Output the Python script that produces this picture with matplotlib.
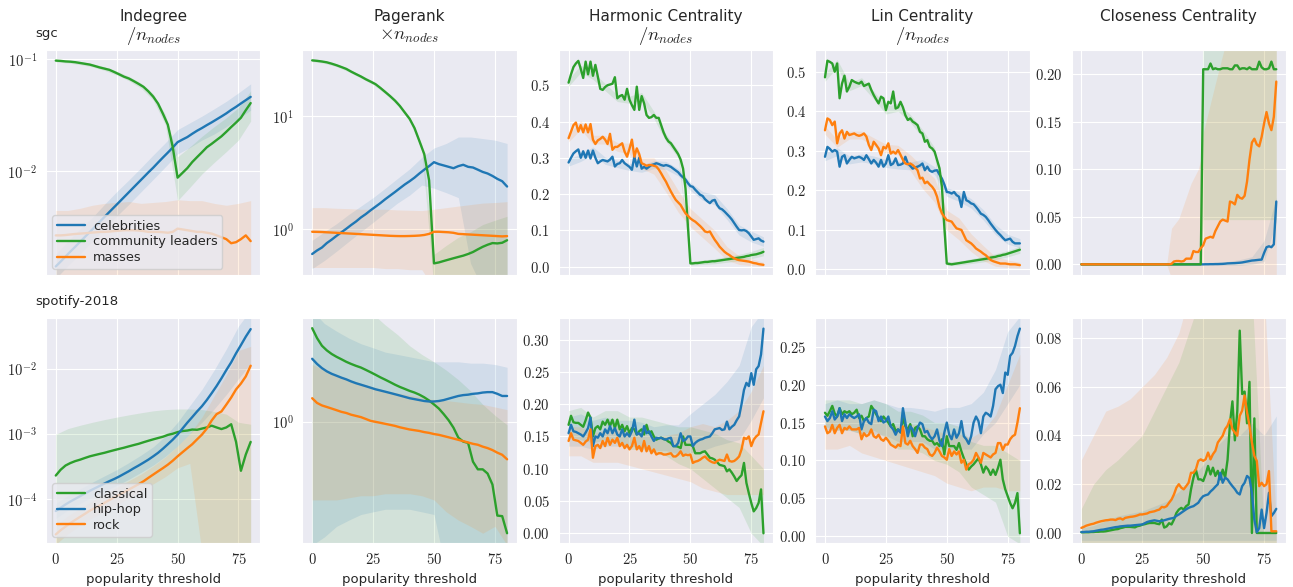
import matplotlib
matplotlib.use('Agg')
import matplotlib.pyplot as plt
import seaborn as sns
import numpy as np
from matplotlib.ticker import FuncFormatter, NullFormatter

# x grids
X_FINE = list(range(0, 81))
X_COARSE = list(range(0, 81, 2))
BAND_X = list(range(0, 81, 5))
BAND_X_CLOSE_SGC = [0, 35, 37, 40, 45, 48, 49, 50, 55, 60, 65, 70, 75, 80]

TITLES = ['Indegree', 'Pagerank', 'Harmonic Centrality', 'Lin Centrality', 'Closeness Centrality']
SUBTITLES = ['$/n_{nodes}$', '$\\times n_{nodes}$', '$/n_{nodes}$', '$/n_{nodes}$', '']
ROWS = ['sgc', 'spotify-2018']
SGC_GROUPS = ['celebrities', 'community leaders', 'masses']
SPOT_GROUPS = ['classical', 'hip-hop', 'rock']
XLABEL = 'popularity threshold'

# ---------------- sgc : indegree (x = X_COARSE) ----------------
sgc_indeg_celeb = [.00143, .00158, .00175, .00194, .00214, .00237, .00262, .0029, .00321, .00356,
                   .00394, .00436, .00482, .00533, .0059, .00653, .00723, .008, .00885, .0098,
                   .0108, .012, .0133, .0147, .0163, .0182, .0192, .0202, .0216, .023,
                   .0243, .0258, .0273, .029, .0308, .0328, .0352, .0375, .0402, .043,
                   .046]
sgc_indeg_comm = [.0966, .096, .095, .0945, .0935, .092, .0905, .089, .0865, .084,
                  .082, .08, .0765, .073, .0695, .067, .0635, .06, .0565, .0515,
                  .0462, .04, .0325, .026, .0165, .0088, .0097, .0107, .0121, .0134,
                  .0148, .0164, .0176, .019, .0205, .0225, .0248, .0272, .03, .035,
                  .0405]
sgc_indeg_mass = [.0027, .0027, .00272, .00275, .00278, .0028, .00282, .00285, .00287, .0029,
                  .0029, .00292, .00295, .00297, .003, .003, .003, .00298, .00295, .0029,
                  .0029, .0029, .00288, .00285, .0029, .0031, .00305, .003, .00295, .0029,
                  .0029, .00285, .0028, .0027, .0026, .0025, .0023, .00235, .0025, .0027,
                  .0024]
sgc_indeg_celeb_lo = [.00112, .00145, .00185, .0024, .0031, .004, .0051, .0066, .0085, .011, .0143,
                      .0163, .019, .0215, .025, .0295, .035]
sgc_indeg_celeb_hi = [.00185, .0024, .0031, .0039, .0051, .0066, .0084, .0108, .014, .018, .0235,
                      .027, .031, .036, .042, .05, .06]
sgc_indeg_comm_lo = [.094, .092, .089, .085, .079, .072, .064, .055, .043, .026, .0055,
                     .0072, .0095, .012, .015, .019, .028]
sgc_indeg_comm_hi = [.099, .097, .095, .091, .085, .078, .07, .061, .049, .032, .0135,
                     .0165, .0205, .025, .03, .037, .052]
sgc_indeg_mass_lo = [.0008, .0008, .0008, .0008, .0008, .0008, .0008, .0008, .0008, .0008, .0008,
                     .0008, .0008, .0008, .0008, .0008, .0008]
sgc_indeg_mass_hi = [.0045, .0045, .0047, .005, .0052, .0053, .0054, .0052, .0053, .0054, .0056,
                     .0055, .0055, .0052, .005, .0052, .0055]

# ---------------- sgc : pagerank (x = X_COARSE) ----------------
sgc_pr_celeb = [.605, .65, .69, .755, .81, .875, .94, 1.01, 1.09, 1.17,
                1.27, 1.36, 1.47, 1.58, 1.7, 1.84, 1.98, 2.13, 2.3, 2.48,
                2.65, 2.85, 3.1, 3.35, 3.6, 3.9, 3.75, 3.65, 3.55, 3.45,
                3.6, 3.7, 3.55, 3.5, 3.35, 3.2, 3.1, 2.95, 2.78, 2.65,
                2.38]
sgc_pr_comm = [30.8, 30.5, 30.1, 29.6, 28.8, 27.9, 26.9, 25.9, 24.5, 23.3,
               22.2, 21.0, 20.0, 19.0, 17.6, 16.2, 14.9, 13.6, 12.2, 10.7,
               9.4, 7.8, 6.0, 4.6, 2.7, 0.5, 0.51, 0.525, 0.54, 0.555,
               0.57, 0.585, 0.605, 0.63, 0.665, 0.7, 0.73, 0.755, 0.75, 0.76,
               0.8]
sgc_pr_mass = [.95, .948, .945, .94, .935, .93, .925, .92, .915, .91,
               .905, .9, .895, .89, .885, .88, .875, .872, .87, .87,
               .872, .875, .88, .89, .91, .95, .95, .945, .94, .93,
               .91, .905, .9, .895, .89, .885, .88, .875, .87, .865,
               .87]
sgc_pr_celeb_lo = [.45, .53, .64, .78, .95, 1.15, 1.4, 1.7, 2.0, 2.45, 2.3, 2.1, 1.9, .5, .3, .3, .3]
sgc_pr_celeb_hi = [.8, .95, 1.12, 1.35, 1.6, 1.9, 2.3, 2.8, 3.4, 4.3, 5.2, 5.7, 6.5, 6.5, 6.3, 6.1, 5.7]
sgc_pr_comm_lo = [30.0, 29.0, 27.1, 24.4, 21.5, 18.8, 15.6, 12.4, 9.0, 5.0, .3, .3, .3, .3, .3, .3, .3]
sgc_pr_comm_hi = [31.6, 30.6, 28.7, 26.0, 22.9, 20.2, 16.8, 13.4, 9.8, 5.6, .6, .72, .85, .95, 1.1, 1.2, 1.3]
sgc_pr_mass_lo = [.46, .46, .46, .46, .46, .46, .45, .45, .44, .44, .3, .3, .3, .3, .3, .3, .3]
sgc_pr_mass_hi = [1.55, 1.55, 1.53, 1.52, 1.5, 1.5, 1.5, 1.48, 1.47, 1.46, 1.5, 1.55, 1.6, 1.65, 1.7, 1.72, 1.75]

# ---------------- sgc : harmonic (x = X_FINE) ----------------
sgc_harm_celeb = [.287, .30, .312, .318, .323, .30, .318, .30, .32, .298,
                  .32, .30, .285, .29, .294, .292, .29, .295, .303, .276,
                  .283, .285, .294, .285, .28, .275, .267, .303, .276, .30,
                  .27, .275, .27, .275, .28, .282, .285, .283, .28, .278,
                  .28, .278, .275, .27, .265, .26, .252, .246, .24, .23,
                  .222, .22, .212, .205, .198, .195, .186, .18, .175, .182,
                  .184, .17, .161, .158, .152, .145, .138, .13, .12, .11,
                  .101, .1, .101, .098, .092, .083, .074, .076, .078, .072,
                  .069]
sgc_harm_comm = [.507, .53, .55, .56, .567, .545, .52, .565, .53, .565,
                 .526, .556, .524, .49, .487, .495, .50, .502, .504, .522,
                 .464, .47, .473, .46, .49, .46, .445, .432, .496, .432,
                 .47, .45, .418, .41, .412, .418, .41, .41, .39, .37,
                 .355, .345, .34, .33, .32, .31, .295, .27, .215, .11,
                 .009, .009, .01, .01, .011, .012, .013, .013, .014, .015,
                 .015, .016, .017, .018, .019, .02, .021, .022, .023, .024,
                 .025, .026, .027, .029, .03, .032, .033, .034, .036, .038,
                 .041]
sgc_harm_mass = [.354, .372, .39, .397, .372, .39, .37, .392, .37, .393,
                 .35, .338, .348, .352, .358, .35, .338, .366, .322, .33,
                 .33, .335, .34, .317, .303, .325, .35, .303, .326, .31,
                 .285, .282, .278, .28, .28, .278, .276, .268, .257, .245,
                 .234, .22, .207, .195, .184, .177, .17, .158, .147, .14,
                 .133, .128, .124, .118, .112, .105, .097, .095, .097, .085,
                 .074, .065, .055, .048, .041, .036, .032, .027, .023, .02,
                 .018, .017, .016, .015, .014, .012, .01, .009, .007, .006,
                 .005]
sgc_harm_celeb_lo = [.277, .29, .308, .282, .273, .265, .26, .27, .268, .25, .21, .183, .17, .13, .087, .068, .056]
sgc_harm_celeb_hi = [.297, .31, .33, .302, .293, .285, .28, .292, .29, .27, .232, .207, .198, .16, .115, .098, .082]
sgc_harm_comm_lo = [.497, .535, .516, .485, .455, .45, .46, .408, .345, .3, .004, .006, .008, .012, .016, .022, .03]
sgc_harm_comm_hi = [.517, .555, .536, .505, .473, .47, .48, .428, .365, .32, .014, .018, .022, .028, .034, .042, .053]
sgc_harm_mass_lo = [.344, .378, .338, .338, .318, .31, .27, .255, .205, .15, .11, .08, .05, .018, .006, .003, .0]
sgc_harm_mass_hi = [.364, .402, .362, .362, .342, .34, .3, .3, .265, .21, .16, .13, .1, .055, .03, .022, .012]

# ---------------- sgc : lin (x = X_FINE) ----------------
sgc_lin_celeb = [.285, .31, .305, .298, .302, .298, .26, .285, .289, .268,
                 .277, .285, .281, .283, .285, .282, .277, .289, .279, .268,
                 .277, .27, .26, .277, .26, .268, .289, .264, .268, .281,
                 .264, .265, .268, .285, .268, .262, .255, .258, .26, .263,
                 .268, .251, .26, .25, .247, .25, .251, .24, .23, .215,
                 .196, .195, .192, .196, .188, .184, .158, .196, .175, .172,
                 .167, .165, .158, .15, .141, .138, .133, .125, .116, .108,
                 .10, .093, .087, .08, .074, .076, .078, .07, .066, .066,
                 .066]
sgc_lin_comm = [.486, .528, .525, .521, .50, .521, .433, .47, .49, .45,
                .462, .479, .475, .472, .47, .475, .464, .467, .47, .454,
                .441, .43, .42, .437, .433, .403, .424, .42, .45, .407,
                .41, .424, .41, .39, .378, .382, .374, .37, .365, .348,
                .344, .323, .327, .31, .306, .298, .277, .256, .209, .108,
                .015, .014, .013, .014, .015, .016, .017, .018, .019, .02,
                .021, .022, .023, .024, .025, .026, .027, .028, .03, .031,
                .032, .034, .035, .037, .038, .04, .042, .044, .046, .048,
                .05]
sgc_lin_mass = [.352, .382, .378, .365, .374, .319, .344, .352, .331, .348,
                .34, .342, .344, .34, .338, .34, .344, .336, .315, .302,
                .323, .315, .306, .289, .31, .306, .319, .293, .298, .293,
                .302, .29, .277, .268, .266, .268, .264, .258, .251, .23,
                .232, .218, .222, .215, .209, .2, .184, .158, .142, .133,
                .125, .123, .121, .112, .104, .102, .10, .087, .074, .07,
                .066, .06, .053, .049, .045, .04, .036, .03, .024, .021,
                .019, .017, .015, .015, .015, .014, .013, .013, .013, .012,
                .011]
sgc_lin_celeb_lo = [.275, .288, .267, .272, .267, .258, .254, .252, .258, .24, .185, .172, .155, .125, .088, .064, .055]
sgc_lin_celeb_hi = [.295, .308, .287, .292, .287, .278, .274, .272, .278, .26, .207, .196, .179, .151, .113, .089, .078]
sgc_lin_comm_lo = [.476, .511, .452, .465, .431, .393, .40, .372, .334, .288, .01, .011, .015, .019, .025, .032, .041]
sgc_lin_comm_hi = [.496, .531, .472, .485, .451, .413, .42, .392, .354, .308, .02, .021, .027, .033, .04, .048, .059]
sgc_lin_mass_lo = [.342, .309, .33, .33, .313, .295, .29, .25, .205, .17, .1, .075, .045, .022, .008, .005, .004]
sgc_lin_mass_hi = [.362, .329, .35, .35, .333, .317, .314, .29, .26, .23, .15, .13, .09, .06, .032, .024, .018]

# ---------------- sgc : closeness (x = X_FINE) ----------------
sgc_close_celeb = [0, 0, 0, 0, 0, 0, 0, 0, 0, 0,
                   0, 0, 0, 0, 0, 0, 0, 0, 0, 0,
                   0, 0, 0, 0, 0, 0, 0, 0, 0, 0,
                   0, 0, 0, 0, 0, 0, 0, 0, 0, 0,
                   0, 0, 0, 0, 0, 0, 0, 0, 0, 0,
                   0, .0001, .0001, .0002, .0002, .0003, .0003, .0004, .0005, .0007,
                   .001, .0011, .0012, .0013, .0015, .0017, .002, .0025, .003, .0035,
                   .004, .0042, .0045, .0048, .005, .012, .018, .019, .018, .021,
                   .066]
sgc_close_comm = [0, 0, 0, 0, 0, 0, 0, 0, 0, 0,
                  0, 0, 0, 0, 0, 0, 0, 0, 0, 0,
                  0, 0, 0, 0, 0, 0, 0, 0, 0, 0,
                  0, 0, 0, 0, 0, 0, 0, 0, 0, 0,
                  0, 0, 0, 0, 0, 0, 0, 0, 0, 0,
                  .205, .205, .205, .211, .205, .206, .205, .205, .206, .206,
                  .206, .205, .205, .209, .209, .205, .206, .206, .205, .207,
                  .205, .205, .205, .213, .207, .205, .205, .206, .213, .205,
                  .205]
sgc_close_mass = [0, 0, 0, 0, 0, 0, 0, 0, 0, 0,
                  0, 0, 0, 0, 0, 0, 0, 0, 0, 0,
                  0, 0, 0, 0, 0, 0, 0, 0, 0, 0,
                  0, 0, 0, 0, 0, 0, 0, .0005, .003, .0035,
                  .0035, .003, .0035, .006, .006, .006, .014, .013, .013, .017,
                  .02, .027, .028, .029, .028, .035, .04, .045, .047, .046,
                  .045, .066, .065, .063, .073, .07, .069, .072, .087, .11,
                  .128, .132, .126, .124, .134, .148, .16, .148, .141, .155,
                  .192]
sgc_close_celeb_lo = [0, 0, 0, 0, 0, 0, 0, 0, -.001, -.001, -.001, 0, .003, .045]
sgc_close_celeb_hi = [0, 0, 0, 0, 0, 0, 0, 0, .002, .003, .005, .008, .025, .07]
sgc_close_comm_lo = [0, 0, 0, 0, 0, 0, 0, .047, .047, .047, .047, .047, .047, .047]
sgc_close_comm_hi = [0, 0, 0, 0, 0, 0, 0, .24, .24, .24, .24, .24, .24, .24]
sgc_close_mass_lo = [0, 0, -.015, -.015, -.015, -.015, -.015, -.015, -.015, -.015, -.015, -.015, -.015, -.015]
sgc_close_mass_hi = [0, 0, .038, .048, .085, .1, .11, .138, .19, .24, .24, .24, .24, .24]

# ---------------- spotify : indegree (x = X_COARSE) ----------------
sp_indeg_class = [2.28e-4, 2.8e-4, 3.25e-4, 3.55e-4, 3.8e-4, 4.0e-4, 4.25e-4, 4.5e-4, 4.7e-4, 4.9e-4,
                  5.1e-4, 5.35e-4, 5.6e-4, 5.85e-4, 6.1e-4, 6.4e-4, 6.7e-4, 7.0e-4, 7.4e-4, 7.8e-4,
                  8.2e-4, 8.6e-4, 9.0e-4, 9.6e-4, 1.0e-3, 1.06e-3, 1.1e-3, 1.12e-3, 1.16e-3, 1.15e-3,
                  1.2e-3, 1.25e-3, 1.33e-3, 1.25e-3, 1.18e-3, 1.25e-3, 1.4e-3, 7.5e-4, 2.7e-4, 4.8e-4,
                  7.5e-4]
sp_indeg_hiphop = [6.5e-5, 7.3e-5, 8.2e-5, 9.1e-5, 1.0e-4, 1.1e-4, 1.21e-4, 1.33e-4, 1.45e-4, 1.58e-4,
                   1.72e-4, 1.87e-4, 2.02e-4, 2.2e-4, 2.42e-4, 2.66e-4, 2.95e-4, 3.25e-4, 3.6e-4, 4.0e-4,
                   4.5e-4, 5.1e-4, 5.9e-4, 6.9e-4, 8.1e-4, 9.7e-4, 1.2e-3, 1.48e-3, 1.8e-3, 2.2e-3,
                   2.65e-3, 3.3e-3, 4.2e-3, 5.4e-3, 7.1e-3, 9.5e-3, .0125, .0172, .023, .031,
                   .0405]
sp_indeg_rock = [2.84e-5, 3.3e-5, 3.75e-5, 4.25e-5, 4.75e-5, 5.3e-5, 5.9e-5, 6.6e-5, 7.2e-5, 7.9e-5,
                 8.7e-5, 9.6e-5, 1.05e-4, 1.15e-4, 1.26e-4, 1.39e-4, 1.53e-4, 1.68e-4, 1.86e-4, 2.1e-4,
                 2.36e-4, 2.65e-4, 2.97e-4, 3.35e-4, 3.85e-4, 4.5e-4, 5.2e-4, 6.0e-4, 6.9e-4, 8.2e-4,
                 9.7e-4, 1.2e-3, 1.6e-3, 2.0e-3, 2.2e-3, 2.8e-3, 3.6e-3, 4.8e-3, 5.9e-3, 7.6e-3,
                 .0111]
sp_indeg_class_lo = [1.5e-5, 1.5e-5, 1.5e-5, 1.5e-5, 1.5e-5, 1.5e-5, 1.5e-5, 1.5e-5, 1.5e-5, 1.5e-5,
                     1.5e-5, 1.5e-5, 1.5e-5, 1.5e-5, 1.5e-5, 1.5e-5, 1.5e-5]
sp_indeg_class_hi = [9.8e-4, 1.2e-3, 1.35e-3, 1.5e-3, 1.65e-3, 1.8e-3, 1.95e-3, 2.1e-3, 2.25e-3, 2.35e-3,
                     2.4e-3, 2.4e-3, 2.35e-3, 2.2e-3, 2.0e-3, 1.5e-3, 1.4e-3]
sp_indeg_hiphop_lo = [5.0e-5, 6.7e-5, 8.5e-5, 1.07e-4, 1.32e-4, 1.6e-4, 2.0e-4, 2.55e-4, 3.3e-4, 4.5e-4,
                      6.5e-4, 1.0e-3, 1.5e-3, 2.4e-3, 4.0e-3, 7.0e-3, .012]
sp_indeg_hiphop_hi = [8.5e-5, 1.13e-4, 1.42e-4, 1.8e-4, 2.25e-4, 2.8e-4, 3.6e-4, 4.7e-4, 6.3e-4, 9.2e-4,
                      1.5e-3, 2.7e-3, 4.8e-3, 9.5e-3, .02, .045, .08]
sp_indeg_rock_lo = [2.0e-5, 2.9e-5, 3.9e-5, 5.1e-5, 6.4e-5, 8.1e-5, 1.02e-4, 1.3e-4, 1.7e-4, 2.2e-4,
                    3.0e-4, 3.5e-4, 1.5e-5, 1.5e-5, 1.5e-5, 1.5e-5, 1.5e-5]
sp_indeg_rock_hi = [3.9e-5, 5.5e-5, 7.2e-5, 9.3e-5, 1.18e-4, 1.5e-4, 1.9e-4, 2.4e-4, 3.2e-4, 4.4e-4,
                    6.5e-4, 1.0e-3, 1.8e-3, 3.8e-3, 8.0e-3, .019, .022]

# ---------------- spotify : pagerank (x = X_COARSE) ----------------
sp_pr_class = [4.19, 3.6, 3.2, 2.98, 2.82, 2.7, 2.6, 2.5, 2.42, 2.35,
               2.29, 2.21, 2.13, 2.05, 1.97, 1.9, 1.83, 1.76, 1.7, 1.65,
               1.6, 1.56, 1.51, 1.45, 1.38, 1.3, 1.22, 1.12, 1.02, 0.91,
               0.78, 0.735, 0.72, 0.54, 0.48, 0.48, 0.45, 0.38, 0.236, 0.234,
               0.18]
sp_pr_hiphop = [2.62, 2.42, 2.27, 2.16, 2.08, 2.02, 1.96, 1.91, 1.85, 1.8,
                1.76, 1.72, 1.68, 1.64, 1.61, 1.58, 1.55, 1.52, 1.49, 1.46,
                1.43, 1.41, 1.39, 1.37, 1.36, 1.36, 1.37, 1.39, 1.42, 1.45,
                1.48, 1.5, 1.51, 1.53, 1.54, 1.56, 1.57, 1.57, 1.53, 1.48,
                1.48]
sp_pr_rock = [1.43, 1.33, 1.28, 1.25, 1.22, 1.19, 1.16, 1.14, 1.11, 1.09,
              1.07, 1.04, 1.01, .995, .98, .965, .95, .935, .915, .9,
              .885, .875, .865, .85, .84, .825, .815, .8, .785, .77,
              .755, .74, .725, .71, .7, .68, .665, .645, .62, .6,
              .56]
sp_pr_class_lo = [.1, .1, .1, .1, .1, .1, .1, .1, .1, .1, .1, .1, .1, .1, .1, .1, .1]
sp_pr_class_hi = [6.0, 6.0, 6.0, 6.0, 6.0, 5.2, 4.4, 3.8, 3.2, 2.8, 2.5, 2.2, 1.9, 1.6, 1.3, 1.1, .95]
sp_pr_hiphop_lo = [.15, .17, .2, .22, .24, .25, .26, .26, .26, .25, .24, .1, .1, .1, .1, .1, .1]
sp_pr_hiphop_hi = [5.5, 4.5, 4.0, 3.6, 3.3, 3.1, 2.9, 2.8, 2.7, 2.6, 2.5, 2.5, 2.5, 2.45, 2.45, 2.4, 2.3]
sp_pr_rock_lo = [.3, .3, .3, .31, .32, .32, .33, .33, .33, .32, .3, .25, .22, .2, .18, .2, .15]
sp_pr_rock_hi = [2.4, 2.2, 2.0, 1.9, 1.8, 1.7, 1.6, 1.55, 1.5, 1.45, 1.4, 1.38, 1.35, 1.32, 1.3, 1.25, 1.2]

# ---------------- spotify : harmonic (x = X_FINE) ----------------
sp_harm_class = [.168, .182, .172, .171, .171, .168, .165, .175, .187, .179,
                 .15, .163, .166, .161, .173, .168, .176, .166, .176, .163,
                 .176, .161, .168, .158, .166, .155, .163, .161, .153, .158,
                 .161, .153, .168, .155, .158, .15, .145, .147, .148, .146,
                 .145, .142, .14, .135, .135, .134, .132, .15, .137, .137,
                 .137, .135, .124, .124, .124, .126, .127, .122, .117, .116,
                 .114, .11, .106, .105, .104, .096, .099, .094, .088, .081,
                 .086, .09, .109, .078, .062, .047, .034, .039, .047, .068,
                 .0]
sp_harm_hiphop = [.155, .168, .158, .157, .155, .153, .15, .156, .163, .179,
                  .135, .15, .148, .155, .15, .161, .155, .166, .155, .163,
                  .153, .15, .161, .15, .155, .15, .158, .176, .153, .155,
                  .15, .166, .155, .158, .15, .143, .148, .147, .148, .146,
                  .145, .147, .148, .135, .135, .14, .155, .143, .145, .15,
                  .15, .135, .14, .143, .145, .146, .148, .149, .15, .155,
                  .161, .162, .163, .16, .161, .173, .161, .165, .168, .175,
                  .181, .2, .222, .233, .228, .248, .23, .254, .259, .277,
                  .317]
sp_harm_rock = [.143, .155, .145, .144, .143, .14, .137, .142, .145, .161,
                .117, .135, .137, .132, .143, .135, .148, .137, .145, .14,
                .148, .135, .14, .132, .137, .13, .135, .148, .13, .135,
                .127, .143, .127, .135, .124, .13, .122, .124, .124, .122,
                .122, .123, .124, .119, .119, .122, .127, .12, .122, .121,
                .122, .109, .111, .112, .114, .117, .119, .115, .112, .11,
                .109, .112, .114, .113, .112, .122, .112, .111, .112, .115,
                .119, .13, .148, .146, .15, .135, .145, .15, .153, .171,
                .189]
sp_harm_class_lo = [.15, .145, .14, .145, .14, .13, .13, .125, .12, .108, .1, .085, .07, .055, .04, .0, -.02]
sp_harm_class_hi = [.19, .195, .18, .19, .19, .18, .18, .175, .17, .165, .165, .16, .155, .145, .14, .12, .1]
sp_harm_hiphop_lo = [.135, .135, .13, .135, .135, .135, .133, .128, .128, .123, .125, .128, .135, .14, .145, .175, .21]
sp_harm_hiphop_hi = [.18, .185, .175, .18, .175, .175, .172, .165, .168, .168, .185, .2, .215, .235, .26, .32, .345]
sp_harm_rock_lo = [.12, .12, .11, .11, .11, .105, .1, .095, .09, .085, .08, .07, .065, .06, .06, .06, .06]
sp_harm_rock_hi = [.165, .165, .155, .16, .165, .158, .155, .15, .152, .155, .165, .17, .165, .175, .19, .22, .26]

# ---------------- spotify : lin (x = X_FINE) ----------------
sp_lin_class = [.163, .159, .165, .172, .162, .158, .169, .161, .165, .163,
                .165, .161, .163, .167, .156, .159, .152, .156, .158, .172,
                .167, .161, .156, .152, .158, .154, .15, .145, .148, .139,
                .141, .137, .156, .145, .141, .148, .132, .143, .145, .141,
                .132, .132, .128, .126, .126, .121, .123, .119, .128, .108,
                .132, .119, .119, .119, .114, .123, .112, .103, .095, .088,
                .092, .095, .099, .103, .095, .084, .092, .088, .081, .088,
                .081, .09, .101, .075, .062, .053, .044, .037, .044, .057,
                .004]
sp_lin_hiphop = [.158, .152, .156, .165, .154, .158, .169, .152, .161, .156,
                 .161, .158, .156, .158, .161, .141, .152, .156, .15, .148,
                 .167, .165, .152, .158, .15, .152, .158, .145, .141, .134,
                 .141, .137, .169, .15, .132, .145, .141, .132, .143, .15,
                 .148, .137, .139, .132, .128, .132, .141, .126, .119, .137,
                 .15, .134, .128, .141, .13, .136, .152, .132, .128, .122,
                 .132, .15, .158, .152, .136, .158, .163, .161, .158, .172,
                 .194, .198, .2, .189, .216, .213, .238, .242, .251, .264,
                 .274]
sp_lin_rock = [.145, .136, .138, .147, .136, .143, .147, .136, .143, .141,
               .145, .141, .141, .141, .143, .128, .136, .132, .134, .141,
               .132, .13, .134, .128, .126, .13, .126, .121, .119, .117,
               .121, .119, .145, .123, .121, .126, .119, .115, .11, .121,
               .121, .117, .115, .108, .106, .11, .117, .112, .106, .104,
               .101, .115, .106, .112, .108, .112, .097, .101, .088, .095,
               .097, .101, .11, .104, .097, .11, .108, .106, .104, .108,
               .11, .123, .123, .114, .121, .121, .128, .132, .134, .15,
               .169]
sp_lin_class_lo = [.145, .14, .14, .135, .14, .13, .115, .115, .11, .1, .095, .085, .065, .055, .045, .0, -.01]
sp_lin_class_hi = [.18, .18, .18, .175, .18, .175, .165, .165, .16, .15, .15, .145, .125, .12, .12, .11, .1]
sp_lin_hiphop_lo = [.14, .14, .14, .135, .135, .133, .125, .125, .125, .115, .115, .115, .115, .135, .15, .175, .2]
sp_lin_hiphop_hi = [.175, .18, .175, .175, .18, .175, .17, .17, .168, .165, .17, .17, .175, .19, .22, .27, .29]
sp_lin_rock_lo = [.115, .115, .12, .11, .105, .1, .095, .09, .085, .08, .07, .065, .06, .065, .065, .06, .06]
sp_lin_rock_hi = [.16, .16, .16, .155, .155, .15, .145, .148, .145, .14, .135, .135, .13, .14, .16, .2, .24]

# ---------------- spotify : closeness (x = X_FINE) ----------------
sp_close_class = [.0003, .0003, .0003, .0003, .0004, .0004, .0005, .0005, .0006, .0006,
                  .0007, .0009, .0011, .0013, .0015, .0016, .002, .0022, .0025, .0025,
                  .0025, .0024, .0023, .0028, .003, .0034, .0036, .0039, .0041, .0041,
                  .0041, .0038, .0036, .0055, .0022, .0027, .004, .0035, .0055, .0082,
                  .0096, .0103, .0096, .011, .0117, .0179, .0227, .026, .022, .022,
                  .0213, .024, .0275, .024, .0268, .0234, .0255, .022, .026, .0227,
                  .03, .045, .054, .038, .05, .083, .057, .058, .045, .062,
                  .0, .047, .0, .0, .0, .0, .0, .0, .0, .0,
                  .0]
sp_close_hiphop = [.0004, .0004, .0005, .0005, .0006, .0007, .0009, .0011, .0013, .0014,
                   .0016, .0018, .002, .0022, .0024, .0025, .0027, .0028, .0029, .003,
                   .003, .0031, .0032, .0033, .0034, .0035, .004, .0045, .0048, .005,
                   .0052, .005, .0048, .005, .0052, .0055, .0058, .006, .0062, .007,
                   .0076, .0083, .009, .0097, .0103, .0107, .011, .0117, .0124, .014,
                   .0151, .0155, .0158, .017, .0179, .019, .02, .0247, .0206, .0227,
                   .022, .0205, .0192, .018, .0165, .0158, .0192, .0206, .0234, .0225,
                   .0165, .0055, .0003, .002, .0096, .002, .0082, .0165, .0069, .0082,
                   .0099]
sp_close_rock = [.0021, .0025, .003, .0033, .0036, .0038, .0042, .0045, .0048, .005,
                 .0052, .0053, .0055, .0055, .0053, .0058, .006, .0055, .0062, .0064,
                 .0066, .0067, .0069, .0072, .0076, .0076, .0078, .008, .0085, .0087,
                 .0089, .0093, .0096, .0107, .0105, .011, .0124, .0137, .0158, .0186,
                 .02, .0186, .0179, .0192, .0206, .0247, .0247, .0261, .0296, .0302,
                 .0296, .0302, .033, .0302, .0323, .0337, .0371, .0385, .0399, .0426,
                 .044, .0467, .0426, .0412, .0399, .0481, .0502, .0564, .0495, .044,
                 .0371, .0316, .0296, .0192, .0206, .0192, .02, .0254, .0007, .0007,
                 .0007]
sp_close_class_lo = [-.005, -.005, -.005, -.005, -.005, -.005, -.005, -.005, -.005, -.005,
                     -.005, -.005, -.005, -.005, -.005, -.005, -.005]
sp_close_class_hi = [.01, .02, .026, .03, .035, .04, .05, .06, .07, .085, .1, .1, .1, .1, .1, .0, .0]
sp_close_hiphop_lo = [-.003, -.003, -.003, -.003, -.003, -.003, -.003, -.003, -.003, -.003,
                      -.003, -.003, -.003, -.003, -.003, -.003, -.003]
sp_close_hiphop_hi = [.002, .003, .005, .007, .008, .009, .011, .013, .017, .022, .028, .035, .04, .04,
                      .045, .04, .048]
sp_close_rock_lo = [-.004, -.004, -.004, -.004, -.004, -.004, -.004, -.004, -.004, -.004,
                    -.004, -.004, -.004, -.004, -.004, -.004, -.004]
sp_close_rock_hi = [.03, .04, .05, .052, .055, .06, .065, .072, .082, .1, .1, .1, .1, .1, .1, .1, .004]

# colours
BLUE = '#1f77b4'
ORANGE = '#ff7f0e'
GREEN = '#2ca02c'

sns.set_style('darkgrid')
plt.rcParams['font.family'] = ['DejaVu Sans']
plt.rcParams['mathtext.fontset'] = 'cm'

# (x, line, band_x, lo, hi, colour, label) in drawing/legend order
panels = [
    [  # sgc
        [(X_COARSE, sgc_indeg_celeb, BAND_X, sgc_indeg_celeb_lo, sgc_indeg_celeb_hi, BLUE, SGC_GROUPS[0]),
         (X_COARSE, sgc_indeg_comm, BAND_X, sgc_indeg_comm_lo, sgc_indeg_comm_hi, GREEN, SGC_GROUPS[1]),
         (X_COARSE, sgc_indeg_mass, BAND_X, sgc_indeg_mass_lo, sgc_indeg_mass_hi, ORANGE, SGC_GROUPS[2])],
        [(X_COARSE, sgc_pr_celeb, BAND_X, sgc_pr_celeb_lo, sgc_pr_celeb_hi, BLUE, SGC_GROUPS[0]),
         (X_COARSE, sgc_pr_comm, BAND_X, sgc_pr_comm_lo, sgc_pr_comm_hi, GREEN, SGC_GROUPS[1]),
         (X_COARSE, sgc_pr_mass, BAND_X, sgc_pr_mass_lo, sgc_pr_mass_hi, ORANGE, SGC_GROUPS[2])],
        [(X_FINE, sgc_harm_celeb, BAND_X, sgc_harm_celeb_lo, sgc_harm_celeb_hi, BLUE, SGC_GROUPS[0]),
         (X_FINE, sgc_harm_comm, BAND_X, sgc_harm_comm_lo, sgc_harm_comm_hi, GREEN, SGC_GROUPS[1]),
         (X_FINE, sgc_harm_mass, BAND_X, sgc_harm_mass_lo, sgc_harm_mass_hi, ORANGE, SGC_GROUPS[2])],
        [(X_FINE, sgc_lin_celeb, BAND_X, sgc_lin_celeb_lo, sgc_lin_celeb_hi, BLUE, SGC_GROUPS[0]),
         (X_FINE, sgc_lin_comm, BAND_X, sgc_lin_comm_lo, sgc_lin_comm_hi, GREEN, SGC_GROUPS[1]),
         (X_FINE, sgc_lin_mass, BAND_X, sgc_lin_mass_lo, sgc_lin_mass_hi, ORANGE, SGC_GROUPS[2])],
        [(X_FINE, sgc_close_celeb, BAND_X_CLOSE_SGC, sgc_close_celeb_lo, sgc_close_celeb_hi, BLUE, SGC_GROUPS[0]),
         (X_FINE, sgc_close_comm, BAND_X_CLOSE_SGC, sgc_close_comm_lo, sgc_close_comm_hi, GREEN, SGC_GROUPS[1]),
         (X_FINE, sgc_close_mass, BAND_X_CLOSE_SGC, sgc_close_mass_lo, sgc_close_mass_hi, ORANGE, SGC_GROUPS[2])],
    ],
    [  # spotify
        [(X_COARSE, sp_indeg_class, BAND_X, sp_indeg_class_lo, sp_indeg_class_hi, GREEN, SPOT_GROUPS[0]),
         (X_COARSE, sp_indeg_hiphop, BAND_X, sp_indeg_hiphop_lo, sp_indeg_hiphop_hi, BLUE, SPOT_GROUPS[1]),
         (X_COARSE, sp_indeg_rock, BAND_X, sp_indeg_rock_lo, sp_indeg_rock_hi, ORANGE, SPOT_GROUPS[2])],
        [(X_COARSE, sp_pr_class, BAND_X, sp_pr_class_lo, sp_pr_class_hi, GREEN, SPOT_GROUPS[0]),
         (X_COARSE, sp_pr_hiphop, BAND_X, sp_pr_hiphop_lo, sp_pr_hiphop_hi, BLUE, SPOT_GROUPS[1]),
         (X_COARSE, sp_pr_rock, BAND_X, sp_pr_rock_lo, sp_pr_rock_hi, ORANGE, SPOT_GROUPS[2])],
        [(X_FINE, sp_harm_class, BAND_X, sp_harm_class_lo, sp_harm_class_hi, GREEN, SPOT_GROUPS[0]),
         (X_FINE, sp_harm_hiphop, BAND_X, sp_harm_hiphop_lo, sp_harm_hiphop_hi, BLUE, SPOT_GROUPS[1]),
         (X_FINE, sp_harm_rock, BAND_X, sp_harm_rock_lo, sp_harm_rock_hi, ORANGE, SPOT_GROUPS[2])],
        [(X_FINE, sp_lin_class, BAND_X, sp_lin_class_lo, sp_lin_class_hi, GREEN, SPOT_GROUPS[0]),
         (X_FINE, sp_lin_hiphop, BAND_X, sp_lin_hiphop_lo, sp_lin_hiphop_hi, BLUE, SPOT_GROUPS[1]),
         (X_FINE, sp_lin_rock, BAND_X, sp_lin_rock_lo, sp_lin_rock_hi, ORANGE, SPOT_GROUPS[2])],
        [(X_FINE, sp_close_class, BAND_X, sp_close_class_lo, sp_close_class_hi, GREEN, SPOT_GROUPS[0]),
         (X_FINE, sp_close_hiphop, BAND_X, sp_close_hiphop_lo, sp_close_hiphop_hi, BLUE, SPOT_GROUPS[1]),
         (X_FINE, sp_close_rock, BAND_X, sp_close_rock_lo, sp_close_rock_hi, ORANGE, SPOT_GROUPS[2])],
    ],
]

log_cols = [True, True, False, False, False]
ylims = [[(1.2e-3, 0.12), (0.395, 38), (-0.023, 0.597), (-0.014, 0.555), (-0.0112, 0.2252)],
         [(2.1e-5, 0.06), (0.155, 4.9), (-0.015, 0.3335), (-0.0088, 0.288), (-0.0041, 0.0882)]]
decimals = [[0, 0, 1, 1, 2], [0, 0, 2, 2, 2]]


def log_label(v, pos):
    return '$10^{%d}$' % int(round(np.log10(v)))


fig, axes = plt.subplots(2, 5, figsize=(12.93, 5.87), dpi=100)
fig.subplots_adjust(left=0.0356, right=0.9946, bottom=0.075, top=0.9148,
                    wspace=0.196, hspace=0.191)

for r in range(2):
    for c in range(5):
        ax = axes[r, c]
        series = panels[r][c]
        if log_cols[c]:
            ax.set_yscale('log')
        for x, y, bx, lo, hi, col, lab in series:
            ax.fill_between(bx, lo, hi, color=col, alpha=0.12, lw=0)
        for x, y, bx, lo, hi, col, lab in series:
            ax.plot(x, y, color=col, lw=1.7, label=lab)
        ax.set_xlim(-4, 84)
        ax.set_ylim(*ylims[r][c])
        ax.set_xticks([0, 25, 50, 75])
        ax.xaxis.set_major_formatter(FuncFormatter(lambda v, p: '$%d$' % v))
        if log_cols[c]:
            ax.yaxis.set_major_formatter(FuncFormatter(log_label))
            ax.yaxis.set_minor_formatter(NullFormatter())
        else:
            d = decimals[r][c]
            ax.yaxis.set_major_formatter(FuncFormatter(lambda v, p, d=d: '$%.*f$' % (d, v)))
        ax.tick_params(labelsize=10.5, pad=3)
        if r == 0:
            ax.set_title(TITLES[c], fontsize=11, pad=21)
            if SUBTITLES[c]:
                ax.annotate(SUBTITLES[c], xy=(0.5, 1.0), xycoords='axes fraction',
                            xytext=(0, 7), textcoords='offset points',
                            ha='center', va='baseline', fontsize=13.5)
            ax.tick_params(labelbottom=False)
        else:
            ax.set_xlabel(XLABEL, fontsize=9.5)
        if c == 0:
            ax.legend(loc='lower left', fontsize=9.3, handlelength=2.2,
                      borderpad=0.35, labelspacing=0.2, handletextpad=0.6)

fig.text(35 / 1293, 1 - 33 / 587, ROWS[0], fontsize=9.5, va='center', ha='left')
fig.text(35 / 1293, 1 - 301 / 587, ROWS[1], fontsize=9.5, va='center', ha='left')

fig.savefig('out.png', dpi=100)
